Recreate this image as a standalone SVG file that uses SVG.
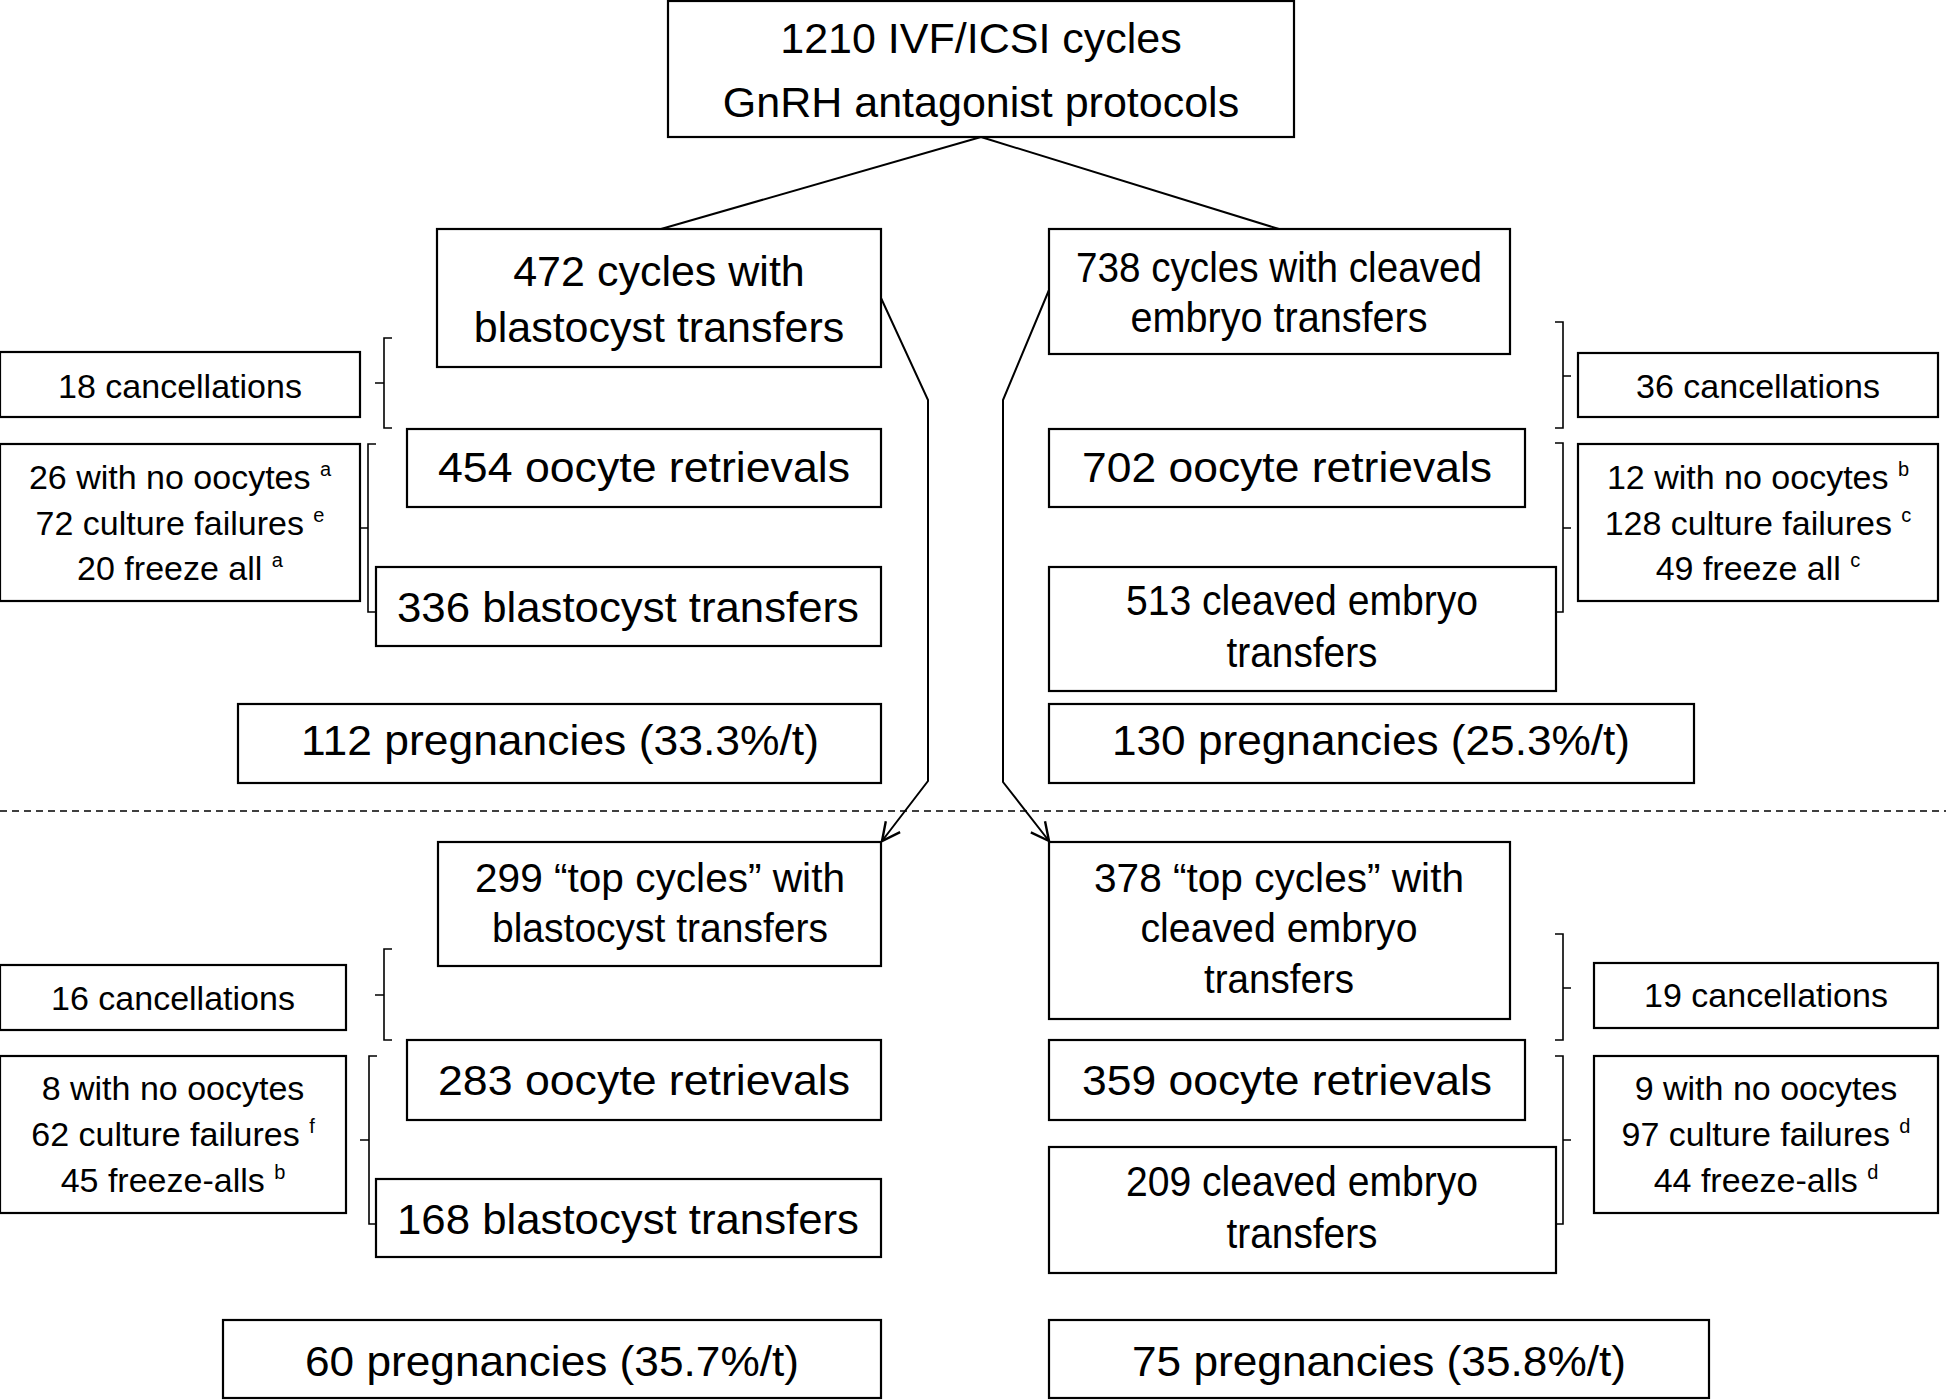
<svg xmlns="http://www.w3.org/2000/svg" width="1946" height="1400" viewBox="0 0 1946 1400">
<style>
.box{fill:#fff;stroke:#000;stroke-width:2.2}
.big{font-family:"Liberation Sans",Arial,sans-serif;font-size:43px;text-anchor:middle;fill:#000}
.mid{font-family:"Liberation Sans",Arial,sans-serif;font-size:41px;text-anchor:middle;fill:#000}
.sm{font-family:"Liberation Sans",Arial,sans-serif;font-size:34px;text-anchor:middle;fill:#000}
.sup{font-size:20px}
.ln{fill:none;stroke:#000;stroke-width:2}
.br{fill:none;stroke:#000;stroke-width:1.6}
</style>
<defs>
<marker id="arr" viewBox="-22 -12 24 24" refX="0" refY="0" markerWidth="24" markerHeight="24" markerUnits="userSpaceOnUse" orient="auto">
<path d="M-18,-9 L0,0 L-18,9" fill="none" stroke="#000" stroke-width="2.4"/>
</marker>
</defs>
<rect width="1946" height="1400" fill="#fff"/>
<g id="connectors">
<path class="ln" d="M981,137 L661,229"/>
<path class="ln" d="M981,137 L1279,229"/>
<path class="ln" d="M881,298 L928,400 L928,781 L882,841" marker-end="url(#arr)"/>
<path class="ln" d="M1049,290 L1003,400 L1003,782 L1049,841" marker-end="url(#arr)"/>
<path d="M0,811 L1946,811" stroke="#000" stroke-width="1.6" stroke-dasharray="7 5" fill="none"/>
<path class="br" d="M392,338 L384,338 L384,428 L392,428 M384,383 L375,383"/>
<path class="br" d="M376,444 L368,444 L368,612 L376,612 M368,528 L360,528"/>
<path class="br" d="M392,949 L384,949 L384,1040 L392,1040 M384,995 L375,995"/>
<path class="br" d="M377,1056 L369,1056 L369,1224 L377,1224 M369,1140 L360,1140"/>
<path class="br" d="M1555,322 L1563,322 L1563,428 L1555,428 M1563,376 L1571,376"/>
<path class="br" d="M1555,443 L1563,443 L1563,612 L1555,612 M1563,528 L1571,528"/>
<path class="br" d="M1555,934 L1563,934 L1563,1040 L1555,1040 M1563,988 L1571,988"/>
<path class="br" d="M1555,1056 L1563,1056 L1563,1224 L1555,1224 M1563,1140 L1571,1140"/>
</g>
<g id="n_top">
<rect class="box" x="668" y="1" width="626" height="136"/>
<text class="big" x="981" y="53">1210 IVF/ICSI cycles</text>
<text class="big" x="981" y="117">GnRH antagonist protocols</text>
</g>
<g id="n_472">
<rect class="box" x="437" y="229" width="444" height="138"/>
<text class="big" x="659" y="286">472 cycles with</text>
<text class="big" x="659" y="342">blastocyst transfers</text>
</g>
<g id="n_738">
<rect class="box" x="1049" y="229" width="461" height="125"/>
<text class="big" x="1279" y="282" textLength="406" lengthAdjust="spacingAndGlyphs">738 cycles with cleaved</text>
<text class="big" x="1279" y="332" textLength="297" lengthAdjust="spacingAndGlyphs">embryo transfers</text>
</g>
<g id="n_18c">
<rect class="box" x="0" y="352" width="360" height="65"/>
<text class="sm" x="180" y="398">18 cancellations</text>
</g>
<g id="n_36c">
<rect class="box" x="1578" y="353" width="360" height="64"/>
<text class="sm" x="1758" y="398">36 cancellations</text>
</g>
<g id="n_454">
<rect class="box" x="407" y="429" width="474" height="78"/>
<text class="big" x="644" y="482" textLength="412" lengthAdjust="spacingAndGlyphs">454 oocyte retrievals</text>
</g>
<g id="n_702">
<rect class="box" x="1049" y="429" width="476" height="78"/>
<text class="big" x="1287" y="482" textLength="410" lengthAdjust="spacingAndGlyphs">702 oocyte retrievals</text>
</g>
<g id="n_lossL1">
<rect class="box" x="0" y="444" width="360" height="157"/>
<text class="sm" x="180" y="489">26 with no oocytes <tspan class="sup" dy="-13">a</tspan></text>
<text class="sm" x="180" y="535">72 culture failures <tspan class="sup" dy="-13">e</tspan></text>
<text class="sm" x="180" y="580">20 freeze all <tspan class="sup" dy="-13">a</tspan></text>
</g>
<g id="n_lossR1">
<rect class="box" x="1578" y="444" width="360" height="157"/>
<text class="sm" x="1758" y="489">12 with no oocytes <tspan class="sup" dy="-13">b</tspan></text>
<text class="sm" x="1758" y="535">128 culture failures <tspan class="sup" dy="-13">c</tspan></text>
<text class="sm" x="1758" y="580">49 freeze all <tspan class="sup" dy="-13">c</tspan></text>
</g>
<g id="n_336">
<rect class="box" x="376" y="567" width="505" height="79"/>
<text class="big" x="628" y="622" textLength="462" lengthAdjust="spacingAndGlyphs">336 blastocyst transfers</text>
</g>
<g id="n_513">
<rect class="box" x="1049" y="567" width="507" height="124"/>
<text class="big" x="1302" y="615" textLength="352" lengthAdjust="spacingAndGlyphs">513 cleaved embryo</text>
<text class="big" x="1302" y="667" textLength="151" lengthAdjust="spacingAndGlyphs">transfers</text>
</g>
<g id="n_112">
<rect class="box" x="238" y="704" width="643" height="79"/>
<text class="big" x="560" y="755" textLength="518" lengthAdjust="spacingAndGlyphs">112 pregnancies (33.3%/t)</text>
</g>
<g id="n_130">
<rect class="box" x="1049" y="704" width="645" height="79"/>
<text class="big" x="1371" y="755" textLength="518" lengthAdjust="spacingAndGlyphs">130 pregnancies (25.3%/t)</text>
</g>
<g id="n_299">
<rect class="box" x="438" y="842" width="443" height="124"/>
<text class="mid" x="660" y="892" textLength="370" lengthAdjust="spacingAndGlyphs">299 “top cycles” with</text>
<text class="mid" x="660" y="942" textLength="336" lengthAdjust="spacingAndGlyphs">blastocyst transfers</text>
</g>
<g id="n_378">
<rect class="box" x="1049" y="842" width="461" height="177"/>
<text class="mid" x="1279" y="892" textLength="370" lengthAdjust="spacingAndGlyphs">378 “top cycles” with</text>
<text class="mid" x="1279" y="942" textLength="277" lengthAdjust="spacingAndGlyphs">cleaved embryo</text>
<text class="mid" x="1279" y="993" textLength="150" lengthAdjust="spacingAndGlyphs">transfers</text>
</g>
<g id="n_16c">
<rect class="box" x="0" y="965" width="346" height="65"/>
<text class="sm" x="173" y="1010">16 cancellations</text>
</g>
<g id="n_19c">
<rect class="box" x="1594" y="963" width="344" height="65"/>
<text class="sm" x="1766" y="1007">19 cancellations</text>
</g>
<g id="n_283">
<rect class="box" x="407" y="1040" width="474" height="80"/>
<text class="big" x="644" y="1095" textLength="412" lengthAdjust="spacingAndGlyphs">283 oocyte retrievals</text>
</g>
<g id="n_359">
<rect class="box" x="1049" y="1040" width="476" height="80"/>
<text class="big" x="1287" y="1095" textLength="410" lengthAdjust="spacingAndGlyphs">359 oocyte retrievals</text>
</g>
<g id="n_lossL2">
<rect class="box" x="0" y="1056" width="346" height="157"/>
<text class="sm" x="173" y="1100">8 with no oocytes</text>
<text class="sm" x="173" y="1146">62 culture failures <tspan class="sup" dy="-13">f</tspan></text>
<text class="sm" x="173" y="1192">45 freeze-alls <tspan class="sup" dy="-13">b</tspan></text>
</g>
<g id="n_lossR2">
<rect class="box" x="1594" y="1056" width="344" height="157"/>
<text class="sm" x="1766" y="1100">9 with no oocytes</text>
<text class="sm" x="1766" y="1146">97 culture failures <tspan class="sup" dy="-13">d</tspan></text>
<text class="sm" x="1766" y="1192">44 freeze-alls <tspan class="sup" dy="-13">d</tspan></text>
</g>
<g id="n_168">
<rect class="box" x="376" y="1179" width="505" height="78"/>
<text class="big" x="628" y="1234" textLength="462" lengthAdjust="spacingAndGlyphs">168 blastocyst transfers</text>
</g>
<g id="n_209">
<rect class="box" x="1049" y="1147" width="507" height="126"/>
<text class="big" x="1302" y="1196" textLength="352" lengthAdjust="spacingAndGlyphs">209 cleaved embryo</text>
<text class="big" x="1302" y="1248" textLength="151" lengthAdjust="spacingAndGlyphs">transfers</text>
</g>
<g id="n_60">
<rect class="box" x="223" y="1320" width="658" height="78"/>
<text class="big" x="552" y="1376" textLength="494" lengthAdjust="spacingAndGlyphs">60 pregnancies (35.7%/t)</text>
</g>
<g id="n_75">
<rect class="box" x="1049" y="1320" width="660" height="78"/>
<text class="big" x="1379" y="1376" textLength="494" lengthAdjust="spacingAndGlyphs">75 pregnancies (35.8%/t)</text>
</g>
</svg>
